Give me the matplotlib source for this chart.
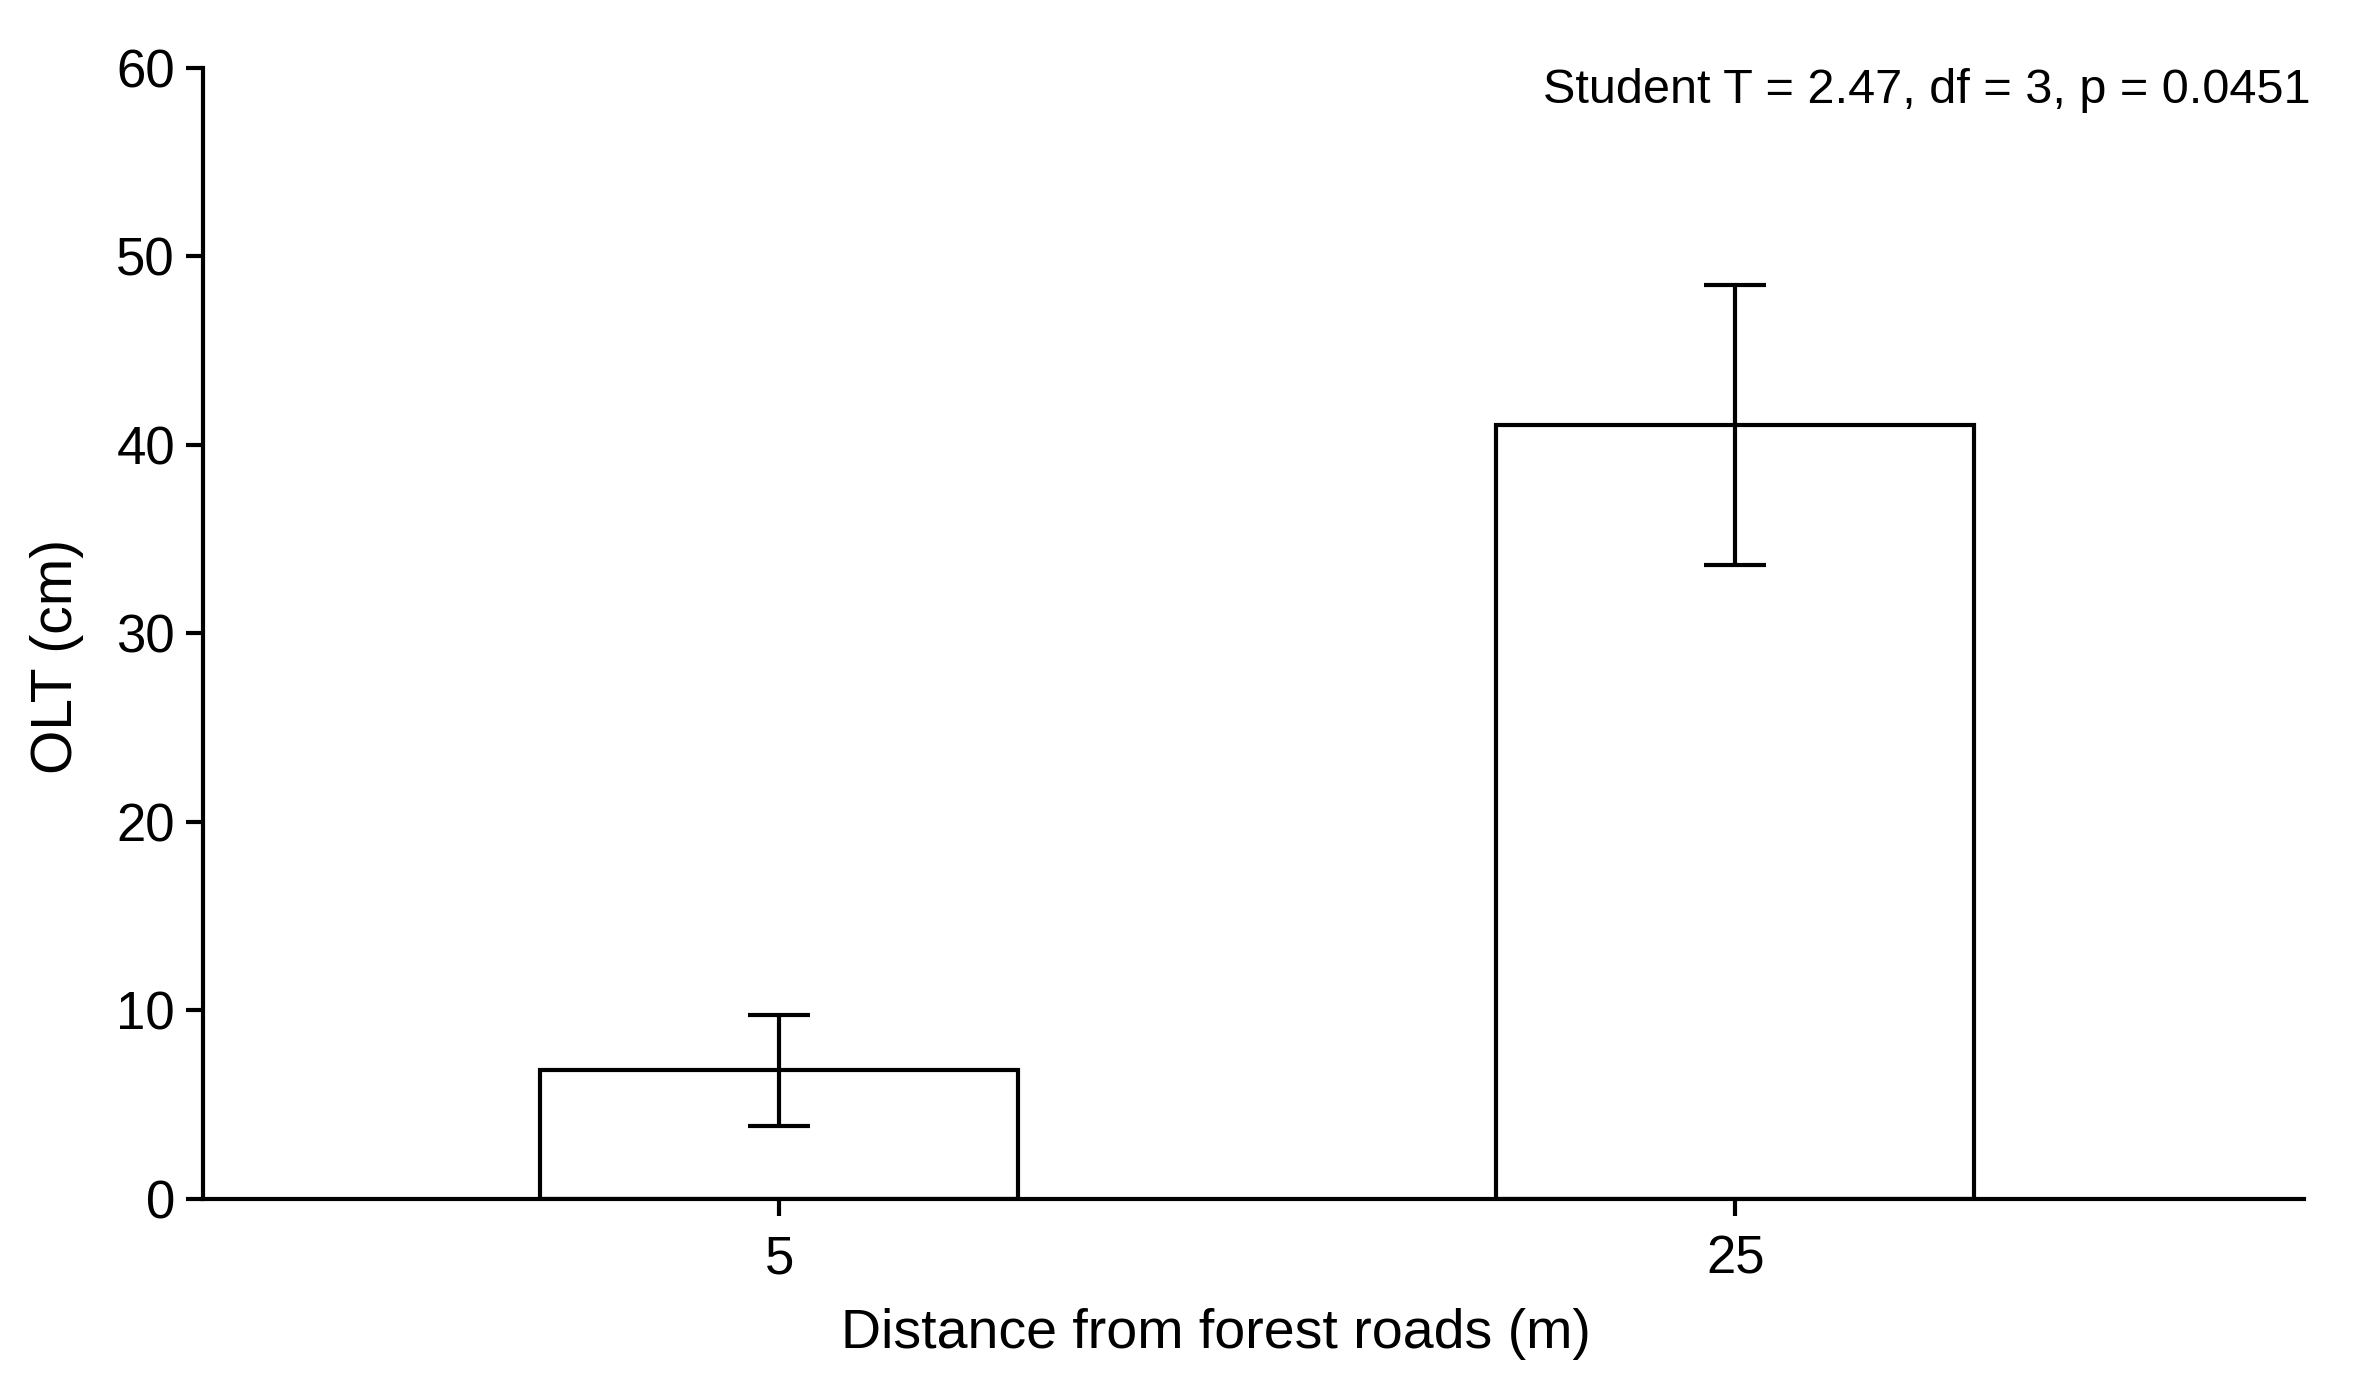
import numpy as np
import matplotlib
matplotlib.use('Agg')
import matplotlib.pyplot as plt

plt.rcParams['font.family'] = ['Liberation Sans', 'DejaVu Sans']

# data
distances = ['5', '25']
olt_mean = [6.8, 41.05]
olt_err = [2.95, 7.45]
y_ticks = [0, 10, 20, 30, 40, 50, 60]
stat_text = 'Student T = 2.47, df = 3, p = 0.0451'

fig = plt.figure(figsize=(23.57, 13.84), dpi=100)
ax = fig.add_axes([0.086, 0.134, 0.8916, 0.817])

x = np.arange(len(distances))
ax.bar(x, olt_mean, width=0.5, color='white', edgecolor='black', linewidth=3,
       yerr=olt_err, capsize=22,
       error_kw=dict(elinewidth=3, capthick=3, ecolor='black'))

ax.set_xlim(-0.603, 1.595)
ax.set_ylim(0, 60)
ax.set_xticks(x)
ax.set_xticklabels(distances)
ax.set_yticks(y_ticks)

for s in ['top', 'right']:
    ax.spines[s].set_visible(False)
for s in ['left', 'bottom']:
    ax.spines[s].set_linewidth(3)

ax.tick_params(axis='both', length=12, width=3, labelsize=38)
ax.tick_params(axis='x', pad=14)
ax.tick_params(axis='y', pad=8)
ax.set_ylabel('OLT (cm)', fontsize=41, va='center')
ax.yaxis.set_label_coords(-0.0694, 0.479)
ax.set_xlabel('Distance from forest roads (m)', fontsize=40, va='center')
ax.xaxis.set_label_coords(0.482, -0.1195)

ax.text(1.003, 0.980, stat_text, transform=ax.transAxes, ha='right', va='center',
        fontsize=35)

fig.savefig('out.png', dpi=100)
